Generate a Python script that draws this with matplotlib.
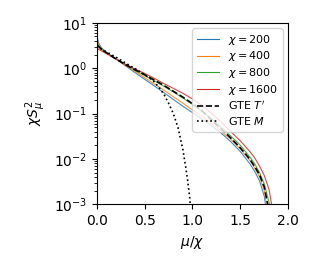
import numpy as np
import matplotlib
matplotlib.use('Agg')
import matplotlib.pyplot as plt

# mu/chi grid shared by the chi curves and GTE T'
mu = [0, 0.02, 0.05, 0.1, 0.2, 0.3, 0.4, 0.5, 0.6, 0.7, 0.8, 0.9, 1.0,
      1.1, 1.2, 1.3, 1.4, 1.5, 1.6, 1.65, 1.7, 1.75, 1.8, 1.85]

s_200 = [5.5, 3.6, 2.8, 2.25, 1.6, 1.13, 0.8, 0.57, 0.41, 0.29, 0.205, 0.145, 0.105,
         0.076, 0.054, 0.037, 0.024, 0.0145, 0.0078, 0.0053, 0.0033, 0.0015, 0.0003, 0.0001]
s_400 = [4.5, 3.3, 2.65, 2.2, 1.6, 1.15, 0.85, 0.62, 0.45, 0.33, 0.235, 0.17, 0.12,
         0.086, 0.06, 0.041, 0.027, 0.0165, 0.0092, 0.0063, 0.004, 0.002, 0.0004, 0.0001]
s_800 = [3.7, 3.1, 2.6, 2.2, 1.6, 1.2, 0.9, 0.69, 0.53, 0.4, 0.3, 0.22, 0.16,
         0.112, 0.076, 0.05, 0.032, 0.02, 0.011, 0.0078, 0.005, 0.0028, 0.0011, 0.0002]
s_1600 = [2.8, 2.6, 2.4, 2.1, 1.6, 1.22, 0.96, 0.77, 0.6, 0.46, 0.36, 0.28, 0.21,
          0.15, 0.1, 0.065, 0.04, 0.025, 0.0145, 0.0105, 0.007, 0.0043, 0.0021, 0.0005]
gte_t = [3.3, 3.0, 2.6, 2.2, 1.6, 1.2, 0.92, 0.72, 0.55, 0.42, 0.31, 0.23, 0.165,
         0.115, 0.072, 0.046, 0.029, 0.0175, 0.0098, 0.0068, 0.0045, 0.0024, 0.0007, 0.0001]

mu_m = [0, 0.1, 0.2, 0.3, 0.4, 0.5, 0.55, 0.6, 0.65, 0.7, 0.75, 0.8, 0.85,
        0.9, 0.93, 0.95, 0.97, 0.985]
gte_m = [3.0, 2.3, 1.75, 1.3, 0.98, 0.72, 0.61, 0.5, 0.38, 0.27, 0.17, 0.1, 0.048,
         0.016, 0.0065, 0.0033, 0.0015, 0.0006]

chis = [200, 400, 800, 1600]
series = [s_200, s_400, s_800, s_1600]
colors = ['#1f77b4', '#ff7f0e', '#2ca02c', '#d62728']

fig = plt.figure(figsize=(3.14, 2.75), dpi=100)
ax = fig.add_axes([0.308, 0.257, 0.610, 0.660])

for chi, s, c in zip(chis, series, colors):
    ax.plot(mu, s, color=c, linewidth=0.8, alpha=0.85, label=rf'$\chi = {chi}$')
ax.plot(mu, gte_t, 'k--', linewidth=1.2, label="GTE $T'$")
ax.plot(mu_m, gte_m, 'k:', linewidth=1.2, label='GTE $M$')

ax.set_yscale('log')
ax.set_xlim(0, 2.0)
ax.set_ylim(1e-3, 1e1)
ax.set_xticks([0, 0.5, 1.0, 1.5, 2.0])
ax.set_xlabel(r'$\mu/\chi$')
ax.set_ylabel(r'$\chi S_\mu^2$')
leg = ax.legend(loc='upper right', fontsize=8, handlelength=2.0, labelspacing=0.24,
                borderpad=0.4, handletextpad=0.8)
for h in leg.get_lines()[:4]:
    h.set_alpha(1.0)

fig.savefig('out.png', dpi=100)
